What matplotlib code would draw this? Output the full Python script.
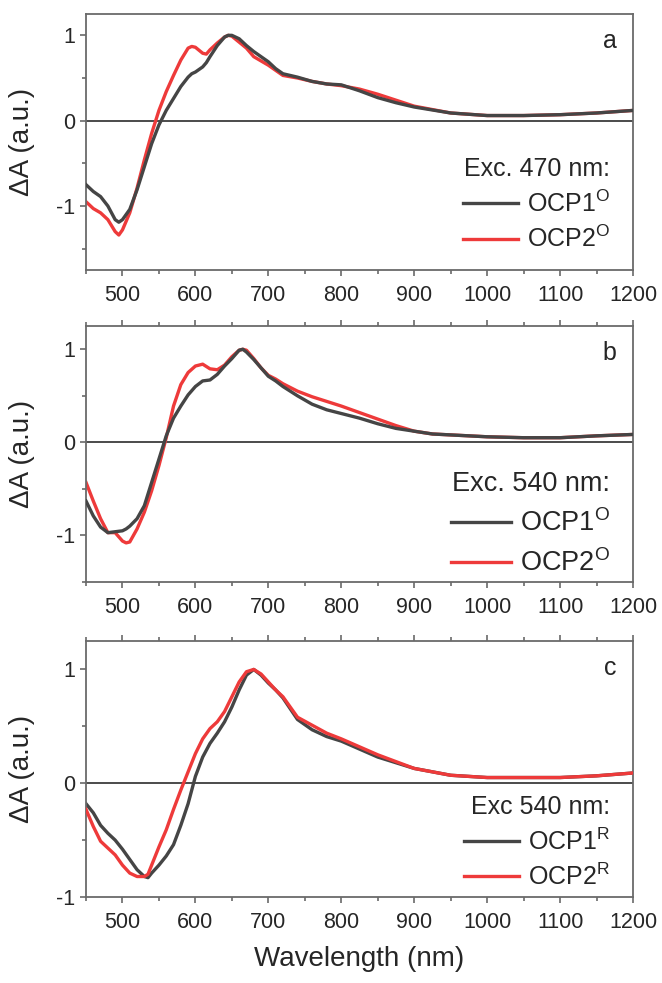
import matplotlib
matplotlib.use("Agg")
import matplotlib.pyplot as plt
from matplotlib.ticker import MultipleLocator

plt.rcParams['font.family'] = ['Liberation Sans', 'DejaVu Sans']
plt.rcParams['mathtext.fontset'] = 'custom'
plt.rcParams['mathtext.rm'] = 'Liberation Sans'
plt.rcParams['mathtext.it'] = 'Liberation Sans:italic'

# ---------------- data ----------------
wl_a = [450, 460, 470, 480, 490, 495, 500, 510, 520, 530, 540, 550, 560, 570, 580, 590, 595,
        600, 610, 615, 620, 630, 640, 645, 650, 660, 670, 680, 690, 700, 710, 720, 740, 760,
        780, 800, 825, 850, 875, 900, 950, 1000, 1050, 1100, 1150, 1200]
a_ocp1 = [-0.75, -0.83, -0.89, -1.00, -1.16, -1.19, -1.16, -1.04, -0.81, -0.54, -0.27, -0.05,
          0.12, 0.26, 0.40, 0.51, 0.55, 0.57, 0.63, 0.68, 0.75, 0.88, 0.98, 1.00, 1.00, 0.96,
          0.88, 0.81, 0.75, 0.69, 0.61, 0.55, 0.51, 0.46, 0.43, 0.42, 0.35, 0.27, 0.21, 0.16,
          0.09, 0.06, 0.06, 0.07, 0.09, 0.12]
a_ocp2 = [-0.95, -1.03, -1.08, -1.16, -1.30, -1.34, -1.28, -1.08, -0.79, -0.46, -0.15, 0.12,
          0.34, 0.53, 0.71, 0.85, 0.87, 0.86, 0.79, 0.78, 0.83, 0.91, 0.98, 1.00, 0.99, 0.92,
          0.85, 0.75, 0.70, 0.65, 0.59, 0.53, 0.50, 0.46, 0.43, 0.41, 0.37, 0.31, 0.24, 0.17,
          0.09, 0.06, 0.06, 0.07, 0.09, 0.12]

wl_b = [450, 460, 470, 480, 490, 500, 505, 510, 520, 530, 540, 550, 560, 570, 580, 590, 600,
        610, 620, 630, 640, 650, 660, 665, 670, 680, 690, 700, 710, 720, 740, 760, 780, 800,
        825, 850, 875, 900, 925, 950, 1000, 1050, 1100, 1150, 1200]
b_ocp1 = [-0.63, -0.79, -0.91, -0.97, -0.96, -0.95, -0.93, -0.90, -0.82, -0.68, -0.43, -0.18,
          0.07, 0.26, 0.39, 0.51, 0.60, 0.66, 0.67, 0.73, 0.82, 0.90, 0.99, 1.00, 0.97, 0.89,
          0.80, 0.71, 0.66, 0.60, 0.50, 0.41, 0.35, 0.31, 0.26, 0.20, 0.15, 0.12, 0.09, 0.08,
          0.06, 0.05, 0.05, 0.07, 0.085]
b_ocp2 = [-0.43, -0.63, -0.82, -0.97, -0.97, -1.06, -1.08, -1.07, -0.93, -0.75, -0.52, -0.25,
          0.05, 0.39, 0.62, 0.75, 0.82, 0.84, 0.79, 0.78, 0.83, 0.92, 0.99, 1.00, 0.99, 0.90,
          0.80, 0.72, 0.68, 0.63, 0.55, 0.49, 0.44, 0.39, 0.32, 0.25, 0.18, 0.12, 0.09, 0.08,
          0.06, 0.05, 0.05, 0.07, 0.085]

wl_c = [450, 460, 470, 480, 490, 500, 510, 520, 530, 535, 540, 550, 560, 570, 580, 590, 600,
        610, 620, 630, 640, 650, 660, 670, 680, 690, 700, 710, 720, 740, 760, 780, 800, 850,
        900, 950, 1000, 1050, 1100, 1150, 1200]
c_ocp1 = [-0.18, -0.26, -0.37, -0.44, -0.50, -0.58, -0.67, -0.76, -0.82, -0.83, -0.79, -0.72,
          -0.64, -0.54, -0.37, -0.18, 0.06, 0.23, 0.35, 0.44, 0.54, 0.67, 0.82, 0.95, 1.00,
          0.95, 0.88, 0.82, 0.75, 0.56, 0.47, 0.41, 0.37, 0.23, 0.13, 0.07, 0.05, 0.05, 0.05,
          0.065, 0.09]
c_ocp2 = [-0.23, -0.38, -0.51, -0.57, -0.63, -0.72, -0.79, -0.82, -0.82, -0.80, -0.72, -0.56,
          -0.41, -0.23, -0.06, 0.10, 0.26, 0.39, 0.48, 0.54, 0.63, 0.76, 0.89, 0.98, 1.00,
          0.96, 0.89, 0.82, 0.76, 0.58, 0.51, 0.44, 0.39, 0.25, 0.13, 0.07, 0.05, 0.05, 0.05,
          0.065, 0.09]

panel_letters = ['a', 'b', 'c']
legend_titles = ['Exc. 470 nm:', 'Exc. 540 nm:', 'Exc 540 nm:']
labels_1 = ['OCP1$^{\\mathrm{O}}$', 'OCP1$^{\\mathrm{O}}$', 'OCP1$^{\\mathrm{R}}$']
labels_2 = ['OCP2$^{\\mathrm{O}}$', 'OCP2$^{\\mathrm{O}}$', 'OCP2$^{\\mathrm{R}}$']
xticks = [500, 600, 700, 800, 900, 1000, 1100, 1200]
yticks = [-1, 0, 1]
ylims = [(-1.75, 1.25), (-1.5, 1.25), (-1.0, 1.25)]

# ---------------- styling ----------------
C1 = '#454545'
C2 = '#ee3a3a'
SPINE = '#6a6a6a'
TXT = '#262626'

fig = plt.figure(figsize=(6.62, 9.83), dpi=100)
W = 547 / 662
L = 86 / 662
boxes = [(14, 270), (326, 582), (641, 897)]
data = [(wl_a, a_ocp1, a_ocp2), (wl_b, b_ocp1, b_ocp2), (wl_c, c_ocp1, c_ocp2)]
leg_fs = [18, 19.5, 18]
leg_space = [0.38, 0.45, 0.35]
leg_anchor = [(0.985, 0.01), (0.988, -0.045), (0.985, -0.03)]

for i, (top, bot) in enumerate(boxes):
    ax = fig.add_axes([L, 1 - bot / 983, W, (bot - top) / 983])
    wl, s1, s2 = data[i]
    ax.axhline(0, color='#1a1a1a', lw=1.1, zorder=1)
    l1, = ax.plot(wl, s1, color=C1, lw=2.4, zorder=3, label=labels_1[i])
    l2, = ax.plot(wl, s2, color=C2, lw=2.4, zorder=2, label=labels_2[i])
    if i == 2:
        l1.set_zorder(2); l2.set_zorder(3)
    ax.set_xlim(450, 1200)
    ax.set_ylim(*ylims[i])
    ax.set_xticks(xticks)
    ax.set_yticks(yticks)
    ax.xaxis.set_minor_locator(MultipleLocator(50))
    ax.yaxis.set_minor_locator(MultipleLocator(0.5))
    ax.tick_params(which='both', direction='out', colors=SPINE, labelcolor=TXT,
                   labelsize=15.5, width=1.2, top=(i > 0), right=False)
    ax.tick_params(which='major', length=4.5)
    ax.tick_params(which='minor', length=3)
    ax.tick_params(axis='x', pad=6)
    ax.set_yticklabels(['-1', '0', '1'])
    for sp in ax.spines.values():
        sp.set_color(SPINE)
        sp.set_linewidth(1.3)
    ax.set_ylabel('ΔA (a.u.)', fontsize=20, color=TXT)
    ax.yaxis.set_label_coords(-0.093, 0.5)
    ax.text(0.97, 0.94, panel_letters[i], transform=ax.transAxes, ha='right', va='top',
            fontsize=18, color=TXT)
    leg = ax.legend(handles=[l1, l2], title=legend_titles[i], loc='lower right',
                    bbox_to_anchor=leg_anchor[i], frameon=False, fontsize=leg_fs[i],
                    title_fontsize=leg_fs[i], handlelength=2.2, handletextpad=0.35,
                    labelspacing=leg_space[i], borderaxespad=0.2, alignment='right')
    for t in leg.get_texts():
        t.set_color(TXT)
    leg.get_title().set_color(TXT)
    if i == 2:
        ax.set_xlabel('Wavelength (nm)', fontsize=20, color=TXT, labelpad=10)

fig.savefig('out.png', dpi=100)
